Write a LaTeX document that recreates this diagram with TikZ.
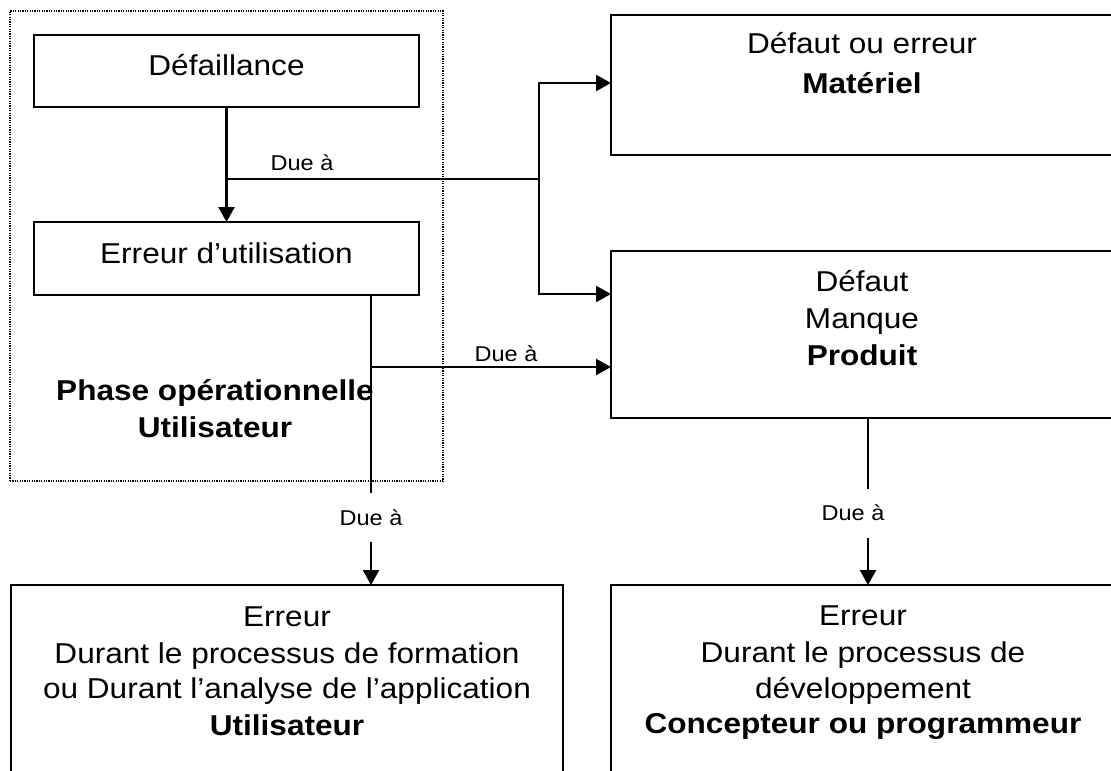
\documentclass[tikz,border=0pt]{standalone}
\usepackage{fontspec}
\setmainfont{Liberation Sans}[FakeStretch=1.1]
\usetikzlibrary{arrows.meta}
\tikzset{
  box/.style={draw, line width=2.6pt, rectangle, inner sep=0pt, outer sep=0pt},
  phasebox/.style={draw, line width=1.8pt, dash pattern=on 1.2pt off 1.2pt, rectangle, inner sep=0pt, outer sep=0pt},
  wire/.style={line width=2.3pt},
  conn/.style={line width=2.3pt, -{Triangle[length=15pt,width=16pt]}},
  txt/.style={anchor=base, inner sep=0pt, font=\fontsize{28.7}{34}\selectfont},
  btxt/.style={anchor=base, inner sep=0pt, font=\fontsize{28.7}{34}\selectfont\bfseries},
  lbl/.style={anchor=base, inner sep=0pt, font=\fontsize{21.4}{25}\selectfont}
}
\begin{document}
\begin{tikzpicture}[x=1pt,y=-1pt]
\useasboundingbox (0,0) rectangle (1111,771);
% boxes
\node[phasebox, minimum width=433pt, minimum height=470pt] (phase) at (226.5,246) {};
\node[box, minimum width=385pt, minimum height=72pt] (defa) at (226.5,71) {};
\node[box, minimum width=385pt, minimum height=73pt] (err) at (226.5,258.5) {};
\node[box, minimum width=504pt, minimum height=140pt] (mat) at (863,85) {};
\node[box, minimum width=504pt, minimum height=167pt] (prod) at (863,334.5) {};
\node[box, minimum width=552pt, minimum height=215pt] (bl) at (287,692.5) {};
\node[box, minimum width=504pt, minimum height=215pt] (br) at (863,692.5) {};
% texts
\node[txt] (t1) at (226.5,75) {Défaillance};
\node[txt] (t2) at (226.5,263) {Erreur d’utilisation};
\node[txt] (t3) at (862,53) {Défaut ou erreur};
\node[btxt] (t4) at (862,93) {Matériel};
\node[txt] (t5) at (862,291) {Défaut};
\node[txt] (t6) at (862,328) {Manque};
\node[btxt] (t7) at (862,365) {Produit};
\node[btxt] (t8) at (215,400) {Phase opérationnelle};
\node[btxt] (t9) at (215,437) {Utilisateur};
\node[txt] (t10) at (287,626) {Erreur};
\node[txt] (t11) at (287,663) {Durant le processus de formation};
\node[txt] (t12) at (287,698) {ou Durant l’analyse de l’application};
\node[btxt] (t13) at (287,735) {Utilisateur};
\node[txt] (t14) at (863,625) {Erreur};
\node[txt] (t15) at (863,662) {Durant le processus de};
\node[txt] (t16) at (863,698) {développement};
\node[btxt] (t17) at (863,733) {Concepteur ou programmeur};
% labels
\node[lbl] (l1) at (302,170) {Due à};
\node[lbl] (l2) at (506,361) {Due à};
\node[lbl] (l3) at (371,525) {Due à};
\node[lbl] (l4) at (853,520) {Due à};
% coordinates
\coordinate (jA) at (226.5,179);
\coordinate (jB) at (539,179);
\coordinate (jC) at (371,367);
\coordinate (e1) at (371,493);
\coordinate (s1) at (371,542);
\coordinate (jD) at (868,418);
\coordinate (e2) at (868,489);
\coordinate (s2) at (868,538);
% connectors
\draw[conn] (defa.south) -- (err.north);
\draw[wire] (jA) -- (jB);
\draw[conn] (jB) |- (mat.west |- 0,83);
\draw[conn] (jB) |- (prod.west |- 0,294);
\draw[wire] (err.south -| jC) -- (e1);
\draw[conn] (jC) -- (prod.west |- jC);
\draw[conn] (s1) -- (bl.north -| s1);
\draw[wire] (prod.south -| jD) -- (e2);
\draw[conn] (s2) -- (br.north -| s2);
\end{tikzpicture}
\end{document}
